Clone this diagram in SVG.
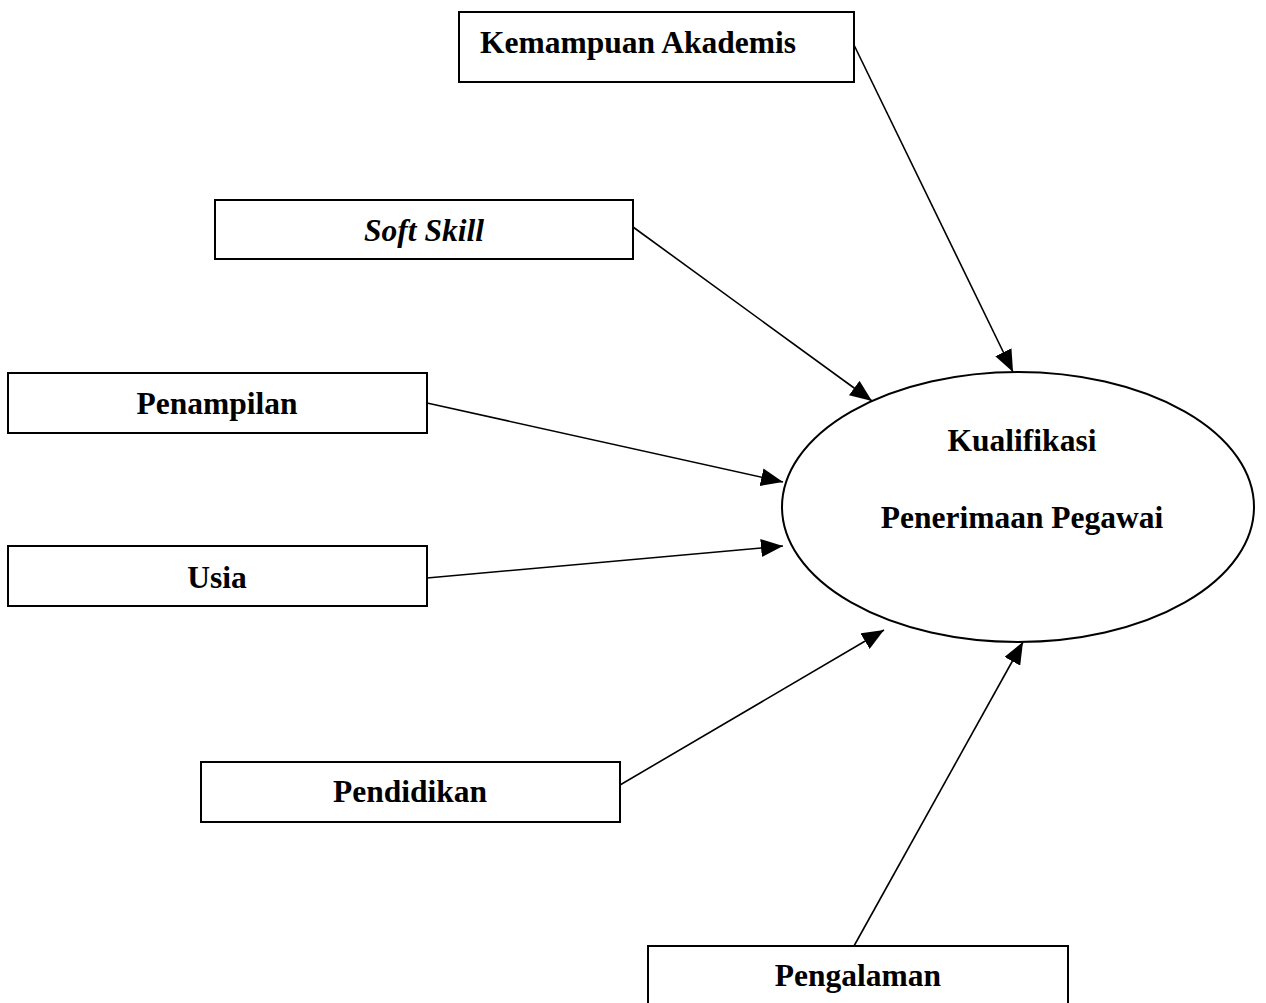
<svg xmlns="http://www.w3.org/2000/svg" width="1266" height="1003" viewBox="0 0 1266 1003">
<style>
.box{fill:#fff;stroke:#000;stroke-width:2}
.t{font-family:"Liberation Serif","Times New Roman",serif;font-weight:bold;font-size:31.5px;fill:#000}
.c{stroke:#000;stroke-width:1.6;fill:none}
</style>
<defs>
<marker id="ah" markerUnits="userSpaceOnUse" markerWidth="24" markerHeight="18" refX="22" refY="9" orient="auto">
<path d="M0,0 L22,9 L0,18 Z" fill="#000"/>
</marker>
</defs>
<rect width="1266" height="1003" fill="#fff"/>
<g id="connectors">
<line class="c" x1="854" y1="45" x2="1013" y2="372" marker-end="url(#ah)"/>
<line class="c" x1="633" y1="227" x2="872" y2="401" marker-end="url(#ah)"/>
<line class="c" x1="427" y1="403" x2="783" y2="482" marker-end="url(#ah)"/>
<line class="c" x1="427" y1="578" x2="783" y2="546" marker-end="url(#ah)"/>
<line class="c" x1="620" y1="785" x2="884" y2="630" marker-end="url(#ah)"/>
<line class="c" x1="854" y1="946" x2="1023" y2="642" marker-end="url(#ah)"/>
</g>
<g id="kemampuan">
<rect class="box" x="459" y="12" width="395" height="70"/>
<text class="t" x="480" y="53">Kemampuan Akademis</text>
</g>
<g id="softskill">
<rect class="box" x="215" y="200" width="418" height="59"/>
<text class="t" x="424" y="241" text-anchor="middle" font-style="italic">Soft Skill</text>
</g>
<g id="penampilan">
<rect class="box" x="8" y="373" width="419" height="60"/>
<text class="t" x="217" y="414" text-anchor="middle">Penampilan</text>
</g>
<g id="usia">
<rect class="box" x="8" y="546" width="419" height="60"/>
<text class="t" x="217" y="588" text-anchor="middle">Usia</text>
</g>
<g id="pendidikan">
<rect class="box" x="201" y="762" width="419" height="60"/>
<text class="t" x="410" y="802" text-anchor="middle">Pendidikan</text>
</g>
<g id="pengalaman">
<rect class="box" x="648" y="946" width="420" height="70"/>
<text class="t" x="858" y="986" text-anchor="middle">Pengalaman</text>
</g>
<g id="kualifikasi">
<ellipse class="box" cx="1018" cy="507" rx="236" ry="135"/>
<text class="t" x="1022" y="451" text-anchor="middle">Kualifikasi</text>
<text class="t" x="1022" y="528" text-anchor="middle">Penerimaan Pegawai</text>
</g>
</svg>
